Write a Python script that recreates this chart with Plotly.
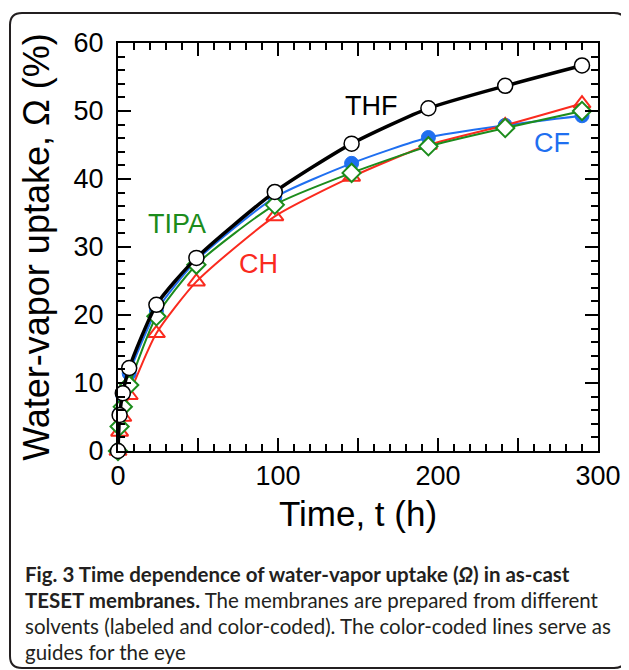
import plotly.graph_objects as go

# time points (h)
time_h = [0, 1, 3, 7, 24, 49, 98, 146, 194, 242, 290]

# water-vapor uptake, Omega (%)
thf = [0, 5.3, 8.5, 12.2, 21.5, 28.4, 38.1, 45.2, 50.4, 53.7, 56.7]
cf = [0, 5.5, 8.2, 11.4, 20.6, 28.0, 37.3, 42.3, 46.1, 47.9, 49.3]
ch = [0, 2.8, 5.0, 8.2, 17.3, 24.9, 34.5, 40.3, 45.0, 47.9, 51.1]
tipa = [0, 3.6, 6.5, 9.7, 19.8, 27.4, 36.2, 40.9, 44.8, 47.5, 50.0]

x_tickvals = [0, 50, 100, 150, 200, 250, 300]
x_ticktext = ["0", "", "100", "", "200", "", "300"]
y_tickvals = [0, 10, 20, 30, 40, 50, 60]

caption_lines = [
    "<b>Fig. 3 Time dependence of water-vapor uptake (<i>Ω</i>) in as-cast</b>",
    "<b>TESET membranes.</b> The membranes are prepared from different",
    "solvents (labeled and color-coded). The color-coded lines serve as",
    "guides for the eye",
]

BLUE = "#1f6ff0"
RED = "#fa2a1e"
GREEN = "#1c8c1c"
FONT = "Liberation Sans, Arial, sans-serif"

# page body adds an 8px margin, so lay out everything 8px up/left
OFF = 8
W, H = 629 - OFF, 670 - OFF
L, T = 118 - OFF, 43 - OFF
R = W - (598 - OFF)
B = H - (451 - OFF)


def px(x, y):
    """screen pixel -> paper coordinates"""
    x, y = x - OFF, y - OFF
    return (x - L) / (W - L - R), (H - B - y) / (H - T - B)


fig = go.Figure()

fig.add_trace(go.Scatter(
    x=time_h, y=cf, mode="lines+markers", name="CF",
    line=dict(color=BLUE, width=2, shape="spline", smoothing=0.6),
    marker=dict(symbol="circle", size=14, color=BLUE, line=dict(color=BLUE, width=1)),
    cliponaxis=False,
))
fig.add_trace(go.Scatter(
    x=time_h, y=ch, mode="lines+markers", name="CH",
    line=dict(color=RED, width=2, shape="spline", smoothing=0.6),
    marker=dict(symbol="triangle-up-open", size=15, color=RED, line=dict(width=2)),
    cliponaxis=False,
))
fig.add_trace(go.Scatter(
    x=time_h, y=tipa, mode="lines+markers", name="TIPA",
    line=dict(color=GREEN, width=2, shape="spline", smoothing=0.6),
    marker=dict(symbol="diamond", size=14, color="white", line=dict(color=GREEN, width=2)),
    cliponaxis=False,
))
fig.add_trace(go.Scatter(
    x=time_h, y=thf, mode="lines+markers", name="THF",
    line=dict(color="black", width=3.5, shape="spline", smoothing=0.6),
    marker=dict(symbol="circle", size=15, color="white", line=dict(color="black", width=1.5)),
    cliponaxis=False,
))

# series labels
for txt, x, y, c in [("THF", 158, 50.7, "black"), ("CF", 271, 45.3, BLUE),
                     ("TIPA", 37, 33.4, GREEN), ("CH", 87.5, 27.5, RED)]:
    fig.add_annotation(x=x, y=y, text=txt, showarrow=False,
                       font=dict(family=FONT, size=27, color=c))

# caption
for i, line in enumerate(caption_lines):
    cx, cy = px(23, 574 + 26 * i)
    fig.add_annotation(x=cx, y=cy, xref="paper", yref="paper", text=line,
                       showarrow=False, xanchor="left", yanchor="middle",
                       font=dict(family="Lato, sans-serif", size=20.5, color="#231f20"))

# rounded outer frame
x0, y0 = px(10, 13)
x1, y1 = px(626, 668)
rx = 12 / (W - L - R)
ry = 12 / (H - T - B)
path = (f"M {x0 + rx},{y0} L {x1 - rx},{y0} Q {x1},{y0} {x1},{y0 - ry} "
        f"L {x1},{y1 + ry} Q {x1},{y1} {x1 - rx},{y1} "
        f"L {x0 + rx},{y1} Q {x0},{y1} {x0},{y1 + ry} "
        f"L {x0},{y0 - ry} Q {x0},{y0} {x0 + rx},{y0} Z")
fig.add_shape(type="path", path=path, xref="paper", yref="paper",
              line=dict(color="#231f20", width=2), layer="below")

axis_common = dict(
    showgrid=False, zeroline=False, showline=True, linecolor="black", linewidth=2,
    mirror="allticks", ticks="inside", tickcolor="black", tickwidth=1.8, ticklen=13,
    tickfont=dict(family=FONT, size=27, color="black"),
)

fig.update_xaxes(
    range=[0, 300], tickmode="array", tickvals=x_tickvals, ticktext=x_ticktext,
    minor=dict(dtick=10, ticks="inside", ticklen=7, tickwidth=1.5, tickcolor="black"),
    title=dict(text="Time, t (h)", font=dict(family=FONT, size=35, color="black"), standoff=11),
    **axis_common,
)
fig.update_yaxes(
    range=[0, 60], tickmode="array", tickvals=y_tickvals, ticklabelstandoff=7,
    minor=dict(dtick=2, ticks="inside", ticklen=7, tickwidth=1.5, tickcolor="black"),
    title=dict(text="Water-vapor uptake, Ω (%)", font=dict(family=FONT, size=36, color="black"), standoff=13),
    **axis_common,
)

fig.update_layout(
    width=W, height=H,
    margin=dict(l=L, r=R, t=T, b=B, autoexpand=False),
    paper_bgcolor="white", plot_bgcolor="white",
    showlegend=False,
)

fig.write_html("out.html")
